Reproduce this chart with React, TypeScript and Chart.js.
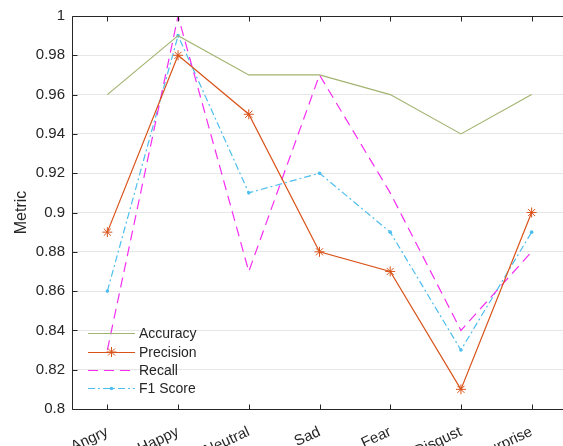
import { useEffect, useRef } from "react";
import { Chart, registerables } from "chart.js";
Chart.register(...registerables);

const categories = ["Angry", "Happy", "Neutral", "Sad", "Fear", "Disgust", "Surprise"];
const accuracy = [0.96, 0.99, 0.97, 0.97, 0.96, 0.94, 0.96];
const precision = [0.89, 0.98, 0.95, 0.88, 0.87, 0.81, 0.9];
const recall = [0.83, 1.0, 0.87, 0.97, 0.91, 0.84, 0.88];
const f1Score = [0.86, 0.99, 0.91, 0.92, 0.89, 0.83, 0.89];
const seriesNames = ["Accuracy", "Precision", "Recall", "F1 Score"];
const yMin = 0.8;
const yMax = 1.0;
const yStep = 0.02;

const FONT = "'Liberation Sans', Arial, Helvetica, sans-serif";
const AXIS = "#262626";

const framePlugin = {
  id: "frame",
  afterDatasetsDraw(chart: any) {
    const { ctx, chartArea } = chart;
    const xs = chart.scales.x;
    const ys = chart.scales.y;
    ctx.save();
    ctx.strokeStyle = AXIS;
    ctx.lineWidth = 1;
    ctx.beginPath();
    const L = Math.round(chartArea.left) + 0.5;
    const T = Math.round(chartArea.top) + 0.5;
    const B = Math.round(chartArea.bottom) + 0.5;
    const R = Math.round(chartArea.right) - 0.5;
    ctx.moveTo(L, T);
    ctx.lineTo(R, T);
    ctx.lineTo(R, B);
    ctx.lineTo(L, B);
    ctx.closePath();
    ctx.stroke();
    ctx.beginPath();
    xs.ticks.forEach((_: any, i: number) => {
      const x = Math.round(xs.getPixelForTick(i)) + 0.5;
      ctx.moveTo(x, B);
      ctx.lineTo(x, B - 5);
      ctx.moveTo(x, T);
      ctx.lineTo(x, T + 5);
    });
    ys.ticks.forEach((t: any) => {
      const y = Math.round(ys.getPixelForValue(t.value)) + 0.5;
      ctx.moveTo(L, y);
      ctx.lineTo(L + 5, y);
    });
    ctx.stroke();
    ctx.restore();
  },
};

const legendPlugin = {
  id: "customLegend",
  afterDraw(chart: any) {
    const { ctx } = chart;
    const x0 = 88;
    const x1 = 135;
    const tx = 139;
    const rows = [333, 352, 370, 388];
    ctx.save();
    chart.data.datasets.forEach((ds: any, i: number) => {
      const y = rows[i];
      ctx.strokeStyle = ds.borderColor;
      ctx.lineWidth = ds.borderWidth;
      ctx.setLineDash(ds.borderDash || []);
      ctx.beginPath();
      ctx.moveTo(x0, y + 0.5);
      ctx.lineTo(x1, y + 0.5);
      ctx.stroke();
      ctx.setLineDash([]);
      const mx = (x0 + x1) / 2;
      if (ds.pointRadius > 0) {
        ctx.save();
        ctx.fillStyle = ds.pointBackgroundColor;
        ctx.strokeStyle = ds.borderColor;
        ctx.lineWidth = ds.pointBorderWidth;
        if (ds.pointStyle === "star") {
          const r = ds.pointRadius;
          ctx.beginPath();
          for (let k = 0; k < 4; k++) {
            const a = (k * Math.PI) / 4;
            ctx.moveTo(mx - Math.cos(a) * r, y - Math.sin(a) * r);
            ctx.lineTo(mx + Math.cos(a) * r, y + Math.sin(a) * r);
          }
          ctx.stroke();
        } else {
          ctx.beginPath();
          ctx.arc(mx, y + 0.5, ds.pointRadius, 0, Math.PI * 2);
          ctx.fill();
        }
        ctx.restore();
      }
      ctx.fillStyle = AXIS;
      ctx.font = `14px ${FONT}`;
      ctx.textBaseline = "middle";
      ctx.textAlign = "left";
      ctx.fillText(ds.label, tx, y + 1);
    });
    ctx.restore();
  },
};

export default function App() {
  const ref = useRef<HTMLCanvasElement | null>(null);
  useEffect(() => {
    if (!ref.current) return;
    const chart = new Chart(ref.current, {
      type: "line",
      data: {
        labels: categories,
        datasets: [
          {
            label: seriesNames[0],
            data: accuracy,
            borderColor: "#a2b471",
            backgroundColor: "#a2b471",
            borderWidth: 1.2,
            pointRadius: 0,
            tension: 0,
          },
          {
            label: seriesNames[1],
            data: precision,
            borderColor: "#d95319",
            backgroundColor: "#d95319",
            pointBackgroundColor: "#d95319",
            borderWidth: 1.2,
            pointStyle: "star",
            pointRadius: 5,
            pointBorderWidth: 1,
            tension: 0,
          },
          {
            label: seriesNames[2],
            data: recall,
            borderColor: "#f52cf2",
            backgroundColor: "#f52cf2",
            borderWidth: 1.2,
            borderDash: [10, 6],
            pointRadius: 0,
            tension: 0,
          },
          {
            label: seriesNames[3],
            data: f1Score,
            borderColor: "#4dbeee",
            backgroundColor: "#4dbeee",
            pointBackgroundColor: "#4dbeee",
            borderWidth: 1.2,
            borderDash: [7, 3, 2, 3],
            pointStyle: "circle",
            pointRadius: 1.8,
            pointBorderWidth: 0,
            tension: 0,
          },
        ] as any,
      },
      options: {
        animation: false,
        responsive: false,
        maintainAspectRatio: false,
        layout: { padding: { top: 15, left: 0, right: 0, bottom: 0 } },
        plugins: {
          legend: { display: false },
          tooltip: { enabled: false },
        },
        scales: {
          x: {
            type: "category",
            offset: true,
            grid: { display: false },
            border: { display: false },
            ticks: {
              autoSkip: false,
              minRotation: 25,
              maxRotation: 25,
              padding: 6,
              color: AXIS,
              font: { family: FONT, size: 15 },
            },
            afterFit: (s: any) => {
              s.height = 37;
              s.paddingLeft = 0;
              s.paddingRight = 0;
            },
          },
          y: {
            min: yMin,
            max: yMax,
            grid: { color: "#e6e6e6", lineWidth: 1, drawTicks: false },
            border: { display: false },
            ticks: {
              stepSize: yStep,
              padding: 7,
              color: AXIS,
              font: { family: FONT, size: 15 },
              callback: (v: any) => String(Number(Number(v).toFixed(2))),
            },
            title: {
              display: true,
              text: "Metric",
              color: AXIS,
              font: { family: FONT, size: 16 },
              padding: { top: 12, bottom: 0 },
            },
            afterFit: (s: any) => {
              s.width = 72;
            },
          },
        },
      },
      plugins: [framePlugin, legendPlugin],
    });
    return () => chart.destroy();
  }, []);
  return (
    <div
      style={{
        position: "fixed",
        left: 0,
        top: 0,
        width: 563,
        height: 446,
        overflow: "hidden",
        background: "#fff",
      }}
    >
      <canvas ref={ref} width={573} height={446} style={{ width: 573, height: 446, display: "block" }} />
    </div>
  );
}
